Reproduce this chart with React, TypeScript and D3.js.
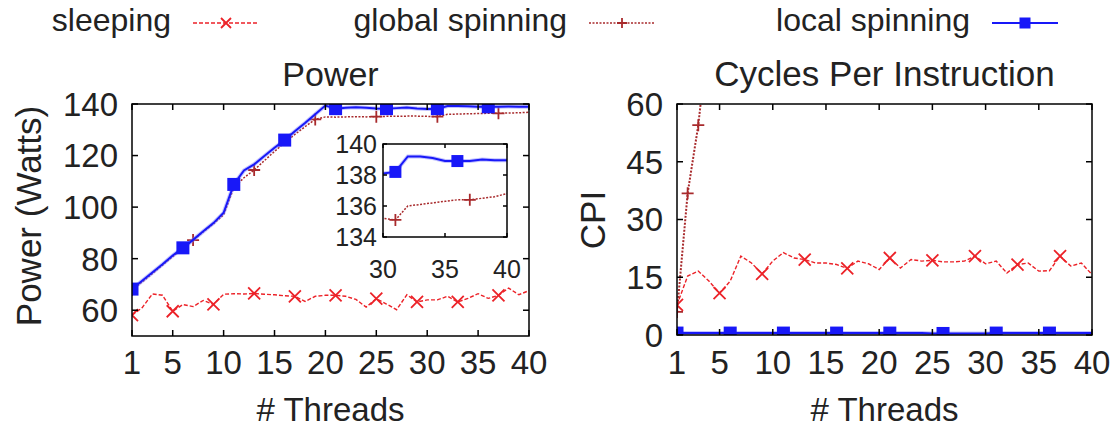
import * as React from "react";
import * as d3 from "d3";

// threads on the x axis
const threads = [1, 2, 3, 4, 5, 6, 7, 8, 9, 10, 11, 12, 13, 14, 15, 16, 17, 18, 19, 20,
  21, 22, 23, 24, 25, 26, 27, 28, 29, 30, 31, 32, 33, 34, 35, 36, 37, 38, 39, 40];

// Power (Watts)
const powerSleeping = [58.1, 61.0, 66.3, 65.8, 59.6, 62.2, 61.4, 63.8, 62.3, 66.2,
  66.4, 66.3, 66.5, 66.2, 66.0, 65.6, 65.4, 63.4, 65.4, 65.8,
  65.8, 65.4, 64.2, 61.2, 64.5, 62.4, 60.2, 66.0, 63.2, 64.0,
  64.0, 65.4, 63.2, 64.6, 66.4, 64.6, 65.8, 68.6, 66.0, 67.6];
const powerGlobal = [67.8, 71.0, 74.2, 77.5, 80.8, 84.0, 87.2, 90.4, 93.5, 97.0,
  107.5, 111.4, 114.4, 118.0, 121.6, 125.0, 128.2, 131.2, 134.0, 135.0,
  134.9, 135.0, 135.1, 135.0, 135.1, 135.2, 135.2, 135.3, 135.3, 135.2,
  135.1, 136.0, 136.1, 136.2, 136.3, 136.4, 136.4, 136.5, 136.6, 136.8];
const powerLocal = [68.2, 71.4, 74.6, 77.8, 81.2, 84.2, 87.3, 90.6, 93.8, 97.8,
  108.8, 114.2, 116.6, 119.8, 123.0, 126.0, 129.4, 132.6, 136.0, 139.4,
  138.2, 138.5, 138.7, 138.5, 138.3, 138.2, 138.4, 138.6, 138.3, 138.1,
  138.2, 139.2, 139.2, 139.1, 138.9, 138.9, 138.9, 139.0, 138.95, 138.95];

// Cycles per instruction
const cpiSleeping = [7.8, 15.3, 16.6, 14.0, 10.9, 14.0, 20.5, 18.7, 15.9, 19.2,
  21.4, 20.0, 19.6, 18.7, 18.7, 18.3, 17.3, 19.2, 18.5, 17.0,
  20.0, 17.4, 19.6, 19.2, 19.4, 19.0, 19.0, 19.2, 20.5, 18.5,
  19.2, 16.1, 18.3, 18.7, 16.6, 16.7, 20.5, 17.9, 18.7, 15.7];
const cpiGlobalThreads = [1, 2, 3, 4, 5];
const cpiGlobal = [6.0, 36.8, 54.5, 80.0, 108.0];
const cpiLocal = [0.5, 0.5, 0.5, 0.5, 0.5, 0.5, 0.5, 0.5, 0.5, 0.5,
  0.5, 0.5, 0.5, 0.5, 0.5, 0.5, 0.5, 0.5, 0.5, 0.5,
  0.5, 0.5, 0.5, 0.5, 0.4, 0.4, 0.4, 0.4, 0.4, 0.4,
  0.5, 0.5, 0.5, 0.5, 0.5, 0.5, 0.5, 0.5, 0.5, 0.5];

// where the point symbols sit
const sleepingMarks = [1, 5, 9, 13, 17, 21, 25, 29, 33, 37];
const globalMarks = [1, 7, 13, 19, 25, 31, 37];
const globalCpiMarks = [1, 2, 3];
const localMarks = [1, 6, 11, 16, 21, 26, 31, 36];

const threadTicks = [1, 5, 10, 15, 20, 25, 30, 35, 40];
const powerTicks = [60, 80, 100, 120, 140];
const cpiTicks = [0, 15, 30, 45, 60];
const insetXTicks = [30, 35, 40];
const insetYTicks = [134, 136, 138, 140];

const legendNames = ["sleeping", "global spinning", "local spinning"];

const FONT = "'Liberation Sans', Arial, Helvetica, sans-serif";
const RED = "#ec2228";
const DARKRED = "#a82a2c";
const BLUE = "#1818f8";

type MarkKind = "x" | "plus" | "square";

interface Series {
  xs: number[];
  ys: number[];
  marks: number[];
  color: string;
  dash: string;
  width: number;
  kind: MarkKind;
  halo?: boolean;
}

function Mark(props: { kind: MarkKind; x: number; y: number; color: string; size?: number }) {
  const { kind, x, y, color } = props;
  const s = props.size || 6;
  if (kind === "x") {
    return (
      <path d={`M${x - s},${y - s}L${x + s},${y + s}M${x - s},${y + s}L${x + s},${y - s}`}
        stroke={color} strokeWidth={1.8} fill="none" />
    );
  }
  if (kind === "plus") {
    return (
      <path d={`M${x - s},${y}L${x + s},${y}M${x},${y - s}L${x},${y + s}`}
        stroke={color} strokeWidth={1.8} fill="none" />
    );
  }
  return <rect x={x - s} y={y - s} width={2 * s} height={2 * s} fill={color} />;
}

function Lines(props: { series: Series[]; x: d3.ScaleLinear<number, number>; y: d3.ScaleLinear<number, number>; clip: string; markSize?: number }) {
  const { series, x, y, clip } = props;
  return (
    <g clipPath={`url(#${clip})`}>
      {series.map((s, i) => {
        const pts = s.xs.map((t, j) => [t, s.ys[j]] as [number, number]);
        const line = d3.line<[number, number]>().x(d => x(d[0])).y(d => y(d[1]))(pts) || "";
        return (
          <g key={i}>
            {s.halo && <path d={line} fill="none" stroke="#7a7aff" strokeWidth={4} opacity={0.45} />}
            <path d={line} fill="none" stroke={s.color} strokeWidth={s.width} strokeDasharray={s.dash} />
            {s.marks.map(m => {
              const j = s.xs.indexOf(m);
              if (j < 0) return null;
              const sz = s.kind === "square" ? (props.markSize || 6.5) : props.markSize;
              return <Mark key={m} kind={s.kind} x={x(m)} y={y(s.ys[j])} color={s.color} size={sz} />;
            })}
          </g>
        );
      })}
    </g>
  );
}

function Frame(props: { x: d3.ScaleLinear<number, number>; y: d3.ScaleLinear<number, number>; xTicks: number[]; yTicks: number[]; tick: number; sw: number }) {
  const { x, y, xTicks, yTicks, tick, sw } = props;
  const [x0, x1] = x.range();
  const [y0, y1] = y.range();
  return (
    <g stroke="#000" strokeWidth={sw} fill="none">
      {xTicks.map(t => (
        <g key={"x" + t}>
          <line x1={x(t)} x2={x(t)} y1={y0} y2={y0 - tick} />
          <line x1={x(t)} x2={x(t)} y1={y1} y2={y1 + tick} />
        </g>
      ))}
      {yTicks.map(t => (
        <g key={"y" + t}>
          <line x1={x0} x2={x0 + tick} y1={y(t)} y2={y(t)} />
          <line x1={x1} x2={x1 - tick} y1={y(t)} y2={y(t)} />
        </g>
      ))}
      <rect x={x0} y={y1} width={x1 - x0} height={y0 - y1} />
    </g>
  );
}

export default function App() {
  const W = 1116;
  const H = 430;

  // left: power
  const px = d3.scaleLinear().domain([1, 40]).range([132, 529]);
  const py = d3.scaleLinear().domain([50, 140]).range([336, 104]);
  // inset
  const ix = d3.scaleLinear().domain([30, 40]).range([383, 507]);
  const iy = d3.scaleLinear().domain([134, 140]).range([237, 144]);
  // right: cpi
  const cx = d3.scaleLinear().domain([1, 40]).range([677, 1092]);
  const cy = d3.scaleLinear().domain([0, 60]).range([335, 104]);

  const powerSeries: Series[] = [
    { xs: threads, ys: powerSleeping, marks: sleepingMarks, color: RED, dash: "4,2", width: 1.4, kind: "x" },
    { xs: threads, ys: powerGlobal, marks: globalMarks, color: DARKRED, dash: "2,1.5", width: 1.5, kind: "plus" },
    { xs: threads, ys: powerLocal, marks: localMarks, color: BLUE, dash: "", width: 2, kind: "square", halo: true },
  ];
  const insetSeries = powerSeries.slice(1).map(s => {
    const keep = s.xs.map((t, j) => j).filter(j => s.xs[j] >= 29);
    return { ...s, xs: keep.map(j => s.xs[j]), ys: keep.map(j => s.ys[j]) };
  });
  const cpiSeries: Series[] = [
    { xs: threads, ys: cpiSleeping, marks: sleepingMarks, color: RED, dash: "4,2", width: 1.4, kind: "x" },
    { xs: cpiGlobalThreads, ys: cpiGlobal, marks: globalCpiMarks, color: DARKRED, dash: "2,1.5", width: 2, kind: "plus" },
    { xs: threads, ys: cpiLocal, marks: localMarks, color: BLUE, dash: "", width: 2, kind: "square", halo: true },
  ];

  const legendRight = [171, 567, 970];
  const legendKinds: MarkKind[] = ["x", "plus", "square"];
  const legendColors = [RED, DARKRED, BLUE];
  const legendDash = ["4,2", "2,1.5", ""];

  return (
    <svg width={W} height={H} style={{ position: "absolute", left: 0, top: 0, background: "#fff" }}
      fontFamily={FONT}>
      <defs>
        <clipPath id="clipP"><rect x={132} y={104} width={397} height={232} /></clipPath>
        <clipPath id="clipI"><rect x={383} y={144} width={124} height={93} /></clipPath>
        <clipPath id="clipC"><rect x={677} y={104} width={415} height={231} /></clipPath>
      </defs>

      {/* legend */}
      {legendNames.map((n, i) => {
        const r = legendRight[i];
        const a = r + 22;
        const b = r + 88;
        return (
          <g key={n}>
            <text x={r} y={31} fontSize={32} textAnchor="end" fill="#222">{n}</text>
            <line x1={a} x2={b} y1={23} y2={23} stroke={legendColors[i]} strokeWidth={i === 2 ? 2 : 1.3}
              strokeDasharray={legendDash[i]} />
            <Mark kind={legendKinds[i]} x={(a + b) / 2} y={23} color={legendColors[i]} size={legendKinds[i] === "square" ? 5.5 : 5} />
          </g>
        );
      })}

      {/* Power */}
      <text x={330.5} y={86} fontSize={34} textAnchor="middle" fill="#222">Power</text>
      <Lines series={powerSeries} x={px} y={py} clip="clipP" />
      <Frame x={px} y={py} xTicks={threadTicks} yTicks={powerTicks} tick={6} sw={1.5} />
      {powerTicks.map(t => (
        <text key={t} x={118} y={py(t)} dy="0.36em" fontSize={33} textAnchor="end" fill="#222">{t}</text>
      ))}
      {threadTicks.map(t => (
        <text key={t} x={px(t)} y={374} fontSize={33} textAnchor="middle" fill="#222">{t}</text>
      ))}
      <text transform="translate(41,216) rotate(-90)" fontSize={35} textAnchor="middle" fill="#222">Power (Watts)</text>
      <text x={330.5} y={421} fontSize={33} textAnchor="middle" fill="#222"># Threads</text>

      {/* inset */}
      <rect x={383} y={144} width={124} height={93} fill="#fff" />
      <Lines series={insetSeries} x={ix} y={iy} clip="clipI" markSize={6} />
      <Frame x={ix} y={iy} xTicks={insetXTicks} yTicks={insetYTicks} tick={4} sw={1.5} />
      {insetYTicks.map(t => (
        <text key={t} x={377} y={iy(t)} dy="0.36em" fontSize={25} textAnchor="end" fill="#222">{t}</text>
      ))}
      {insetXTicks.map(t => (
        <text key={t} x={ix(t)} y={278} fontSize={25} textAnchor="middle" fill="#222">{t}</text>
      ))}

      {/* CPI */}
      <text x={884.5} y={86} fontSize={35} textAnchor="middle" fill="#222">Cycles Per Instruction</text>
      <Lines series={cpiSeries} x={cx} y={cy} clip="clipC" />
      <Frame x={cx} y={cy} xTicks={threadTicks} yTicks={cpiTicks} tick={6} sw={1.5} />
      {cpiTicks.map(t => (
        <text key={t} x={663} y={cy(t)} dy="0.36em" fontSize={33} textAnchor="end" fill="#222">{t}</text>
      ))}
      {threadTicks.map(t => (
        <text key={t} x={cx(t)} y={374} fontSize={33} textAnchor="middle" fill="#222">{t}</text>
      ))}
      <text transform="translate(605,220) rotate(-90)" fontSize={35} textAnchor="middle" fill="#222">CPI</text>
      <text x={884.5} y={421} fontSize={33} textAnchor="middle" fill="#222"># Threads</text>
    </svg>
  );
}
